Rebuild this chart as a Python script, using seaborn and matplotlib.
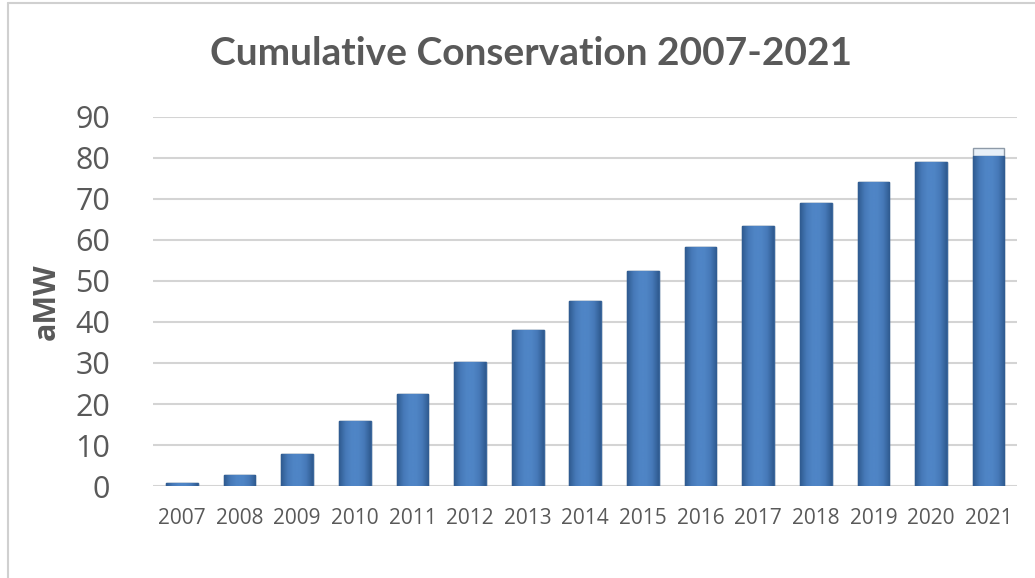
import numpy as np
import pandas as pd
import matplotlib
matplotlib.use("Agg")
import matplotlib.pyplot as plt
import seaborn as sns
from matplotlib.lines import Line2D
from matplotlib.colors import LinearSegmentedColormap

years = ["2007", "2008", "2009", "2010", "2011", "2012", "2013", "2014",
         "2015", "2016", "2017", "2018", "2019", "2020", "2021"]
cumulative = [0.7, 2.7, 7.8, 15.9, 22.5, 30.2, 38.0, 45.0,
              52.5, 58.3, 63.4, 69.0, 74.1, 79.0, 80.5]
top_segment = [0, 0, 0, 0, 0, 0, 0, 0, 0, 0, 0, 0, 0, 0, 2.0]
yticks = [0, 10, 20, 30, 40, 50, 60, 70, 80, 90]

df = pd.DataFrame({"year": years, "aMW": cumulative, "top": top_segment})
df["total"] = df["aMW"] + df["top"]

sns.set_theme(style="white")
plt.rcParams["font.family"] = ["Open Sans", "DejaVu Sans"]

fig = plt.figure(figsize=(10.35, 5.78), dpi=100)
ax = fig.add_axes([0.148, 0.159, 0.835, 0.639])

sns.barplot(data=df, x="year", y="total", color="#e8f0f8", edgecolor="#8e9aa8",
            linewidth=1.0, width=0.55, ax=ax, saturation=1)
n_top = len(ax.patches)
sns.barplot(data=df, x="year", y="aMW", color="#4a7ebb", edgecolor="#3b679c",
            linewidth=1.0, width=0.55, ax=ax, saturation=1)

cmap = LinearSegmentedColormap.from_list(
    "bev", ["#2f5b90", "#4679b8", "#4f85c6", "#4f85c6", "#4679b8", "#2f5b90"])
grad = np.linspace(0, 1, 64).reshape(1, -1)
for p in ax.patches[n_top:]:
    x0, y0 = p.get_x(), p.get_y()
    w, h = p.get_width(), p.get_height()
    if h <= 0:
        continue
    im = ax.imshow(grad, cmap=cmap, aspect="auto",
                   extent=[x0, x0 + w, y0, y0 + h], zorder=p.get_zorder() + 0.1,
                   interpolation="bicubic")
    im.set_clip_path(p)

ax.set_xlim(-0.5, len(years) - 0.5)
ax.set_ylim(0, 90)
ax.set_yticks(yticks)
ax.set_yticklabels([str(t) for t in yticks])
ax.yaxis.grid(True, color="#d4d4d4", linewidth=1.5)
ax.set_axisbelow(True)
for s in ax.spines.values():
    s.set_visible(False)

ax.tick_params(axis="y", labelsize=22, labelcolor="#595959", pad=31, length=0)
ax.tick_params(axis="x", labelsize=15, labelcolor="#595959", pad=16, length=0)
ax.set_xlabel("")
ax.set_ylabel("aMW", fontsize=22, fontweight="bold", color="#595959", labelpad=10)

fig.text(0.513, 0.907, "Cumulative Conservation 2007-2021", ha="center", va="center",
         fontsize=28, fontweight="bold", color="#595959", family=["Lato", "DejaVu Sans"])

fig.add_artist(Line2D([0.008, 0.008], [0.0, 0.995], color="#d0d0d0", linewidth=1.5,
                      transform=fig.transFigure))
fig.add_artist(Line2D([0.008, 1.0], [0.995, 0.995], color="#d0d0d0", linewidth=1.5,
                      transform=fig.transFigure))

fig.savefig("out.png", dpi=100)
